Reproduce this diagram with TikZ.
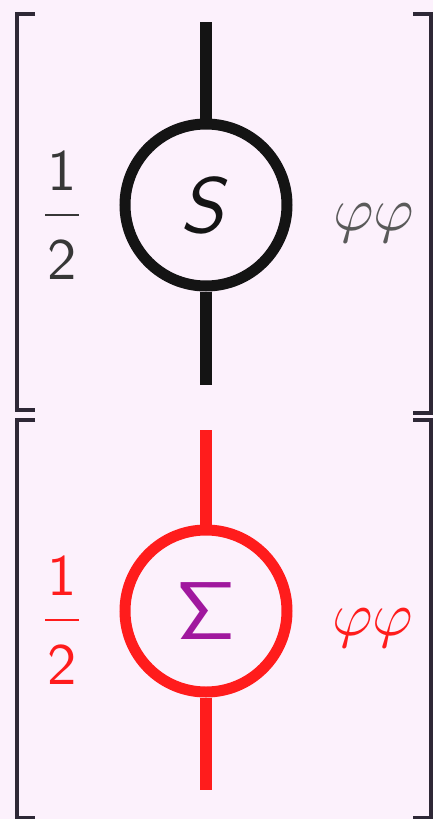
\documentclass[tikz,border=0pt]{standalone}
\DeclareMathAlphabet{\mathsfsl}{OT1}{cmss}{m}{sl}
\definecolor{bgpink}{RGB}{252,241,252}
\definecolor{brk}{RGB}{46,40,54}
\definecolor{ink}{RGB}{20,20,20}
\definecolor{txtdark}{RGB}{55,55,55}
\definecolor{txtgray}{RGB}{90,90,90}
\definecolor{redink}{RGB}{255,28,28}
\definecolor{sigmaink}{RGB}{160,24,158}
\newcommand{\halfsf}{\displaystyle\frac{\hbox to 5.8pt{\hss$\mathsf{1}$\hss}}{\raisebox{-1.6pt}{$\mathsf{2}$}}}
\tikzset{
  bracket/.style={draw=brk, line width=3.5pt},
  wire/.style={line width=12pt},
  blob/.style={circle, draw, line width=11pt, minimum size=162pt, inner sep=0pt},
  coef/.style={anchor=base, scale=5.85},
  field/.style={anchor=base, scale=6.2},
}
\begin{document}
\begin{tikzpicture}[x=1pt,y=-1pt]
\fill[bgpink] (0,0) rectangle (433,819);
\useasboundingbox (0,0) rectangle (433,819);

% brackets, upper term
\draw[bracket] (35,14) -- (17,14) -- (17,410) -- (35,410);
\draw[bracket] (413,14) -- (431,14) -- (431,413) -- (413,413);
% brackets, lower term
\draw[bracket] (35,420) -- (17,420) -- (17,818) -- (35,818);
\draw[bracket] (413,420) -- (431,420) -- (431,818) -- (413,818);

% upper term
\node[blob, draw=ink, text=ink] (s) at (206,205) {\scalebox{7.8}{$\mathsfsl{S}$}};
\coordinate (s-in) at (206,22);
\coordinate (s-out) at (206,385);
\draw[wire, ink] (s-in) -- (s.north);
\draw[wire, ink] (s.south) -- (s-out);
\node[coef, text=txtdark] (half1) at (62,229.6) {$\halfsf$};
\node[field, text=txtgray] (phi1) at (374,230) {$\varphi\varphi$};

% lower term
\node[blob, draw=redink, text=sigmaink] (sig) at (206,611) {\scalebox{8.2}{$\mathsf{\Sigma}$}};
\coordinate (sig-in) at (206,430);
\coordinate (sig-out) at (206,790);
\draw[wire, redink] (sig-in) -- (sig.north);
\draw[wire, redink] (sig.south) -- (sig-out);
\node[coef, text=redink] (half2) at (62,634.6) {$\halfsf$};
\node[field, text=redink] (phi2) at (373,635) {$\varphi\varphi$};
\end{tikzpicture}
\end{document}
